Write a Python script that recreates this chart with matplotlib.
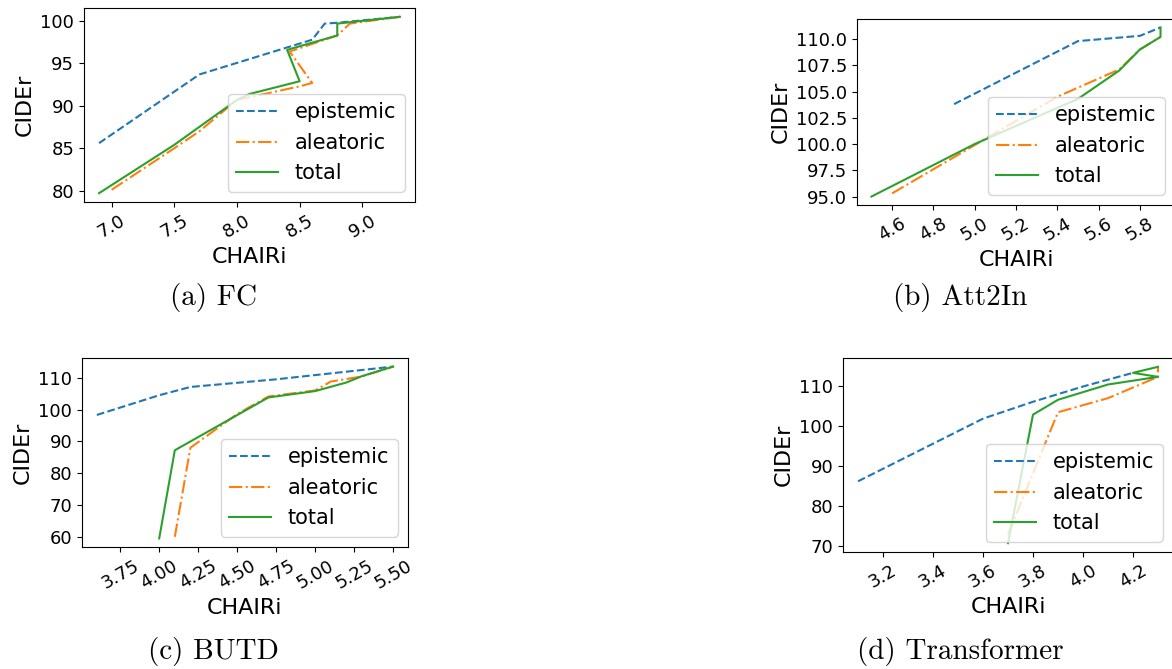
import matplotlib
matplotlib.use('Agg')
import matplotlib.pyplot as plt

# CHAIRi (x) vs CIDEr (y) for each captioning model, one curve per uncertainty type
fc_epi_x = [6.9, 7.7, 8.6, 8.7, 8.8, 9.3]
fc_epi_y = [85.6, 93.7, 97.8, 99.7, 99.8, 100.5]
fc_ale_x = [7.0, 7.5, 7.7, 8.0, 8.5, 8.6, 8.42, 8.8, 8.9, 9.3]
fc_ale_y = [80.1, 85.0, 87.0, 90.7, 92.3, 92.7, 96.4, 98.3, 99.7, 100.5]
fc_tot_x = [6.9, 7.5, 8.0, 8.1, 8.5, 8.4, 8.8, 8.8, 9.3]
fc_tot_y = [79.7, 85.4, 90.7, 91.4, 92.9, 96.6, 98.3, 99.7, 100.5]

att_epi_x = [4.9, 5.5, 5.8, 5.9]
att_epi_y = [103.8, 109.8, 110.3, 111.1]
att_ale_x = [4.6, 5.0, 5.4, 5.7, 5.8, 5.9]
att_ale_y = [95.3, 99.9, 104.5, 107.1, 109.0, 110.2]
att_tot_x = [4.5, 5.0, 5.5, 5.7, 5.8, 5.9, 5.9]
att_tot_y = [95.0, 100.0, 104.3, 107.0, 109.0, 110.2, 111.1]

butd_epi_x = [3.6, 4.0, 4.2, 4.75, 5.5]
butd_epi_y = [98.3, 104.5, 107.1, 109.5, 113.5]
butd_ale_x = [4.1, 4.2, 4.5, 4.7, 5.0, 5.1, 5.3, 5.5]
butd_ale_y = [60.0, 88.0, 98.6, 104.1, 106.0, 108.8, 110.4, 113.5]
butd_tot_x = [4.0, 4.1, 4.7, 5.0, 5.2, 5.3, 5.5]
butd_tot_y = [59.5, 87.2, 103.8, 105.8, 108.5, 110.5, 113.5]

tr_epi_x = [3.1, 3.6, 3.8, 4.0, 4.2]
tr_epi_y = [86.2, 101.8, 106.0, 109.8, 113.2]
tr_ale_x = [3.7, 3.9, 4.1, 4.3, 4.3]
tr_ale_y = [73.0, 103.4, 106.9, 112.2, 114.6]
tr_tot_x = [3.7, 3.8, 3.9, 4.1, 4.3, 4.2, 4.3]
tr_tot_y = [70.8, 102.8, 106.5, 110.3, 112.2, 113.2, 114.7]

# tick values as printed in the reference
fc_xticks = [7.0, 7.5, 8.0, 8.5, 9.0]
fc_yticks = [80, 85, 90, 95, 100]
att_xticks = [4.6, 4.8, 5.0, 5.2, 5.4, 5.6, 5.8]
att_yticks = [95.0, 97.5, 100.0, 102.5, 105.0, 107.5, 110.0]
butd_xticks = [3.75, 4.00, 4.25, 4.50, 4.75, 5.00, 5.25, 5.50]
butd_yticks = [60, 70, 80, 90, 100, 110]
tr_xticks = [3.2, 3.4, 3.6, 3.8, 4.0, 4.2]
tr_yticks = [70, 80, 90, 100, 110]

panels = [
    ('(a) FC', (fc_epi_x, fc_epi_y), (fc_ale_x, fc_ale_y), (fc_tot_x, fc_tot_y),
     fc_xticks, fc_yticks),
    ('(b) Att2In', (att_epi_x, att_epi_y), (att_ale_x, att_ale_y), (att_tot_x, att_tot_y),
     att_xticks, att_yticks),
    ('(c) BUTD', (butd_epi_x, butd_epi_y), (butd_ale_x, butd_ale_y), (butd_tot_x, butd_tot_y),
     butd_xticks, butd_yticks),
    ('(d) Transformer', (tr_epi_x, tr_epi_y), (tr_ale_x, tr_ale_y), (tr_tot_x, tr_tot_y),
     tr_xticks, tr_yticks),
]

W, H = 1172, 669
# axes boxes in pixels: left, top, right, bottom (right side of b/d runs off the page)
boxes = [(84, 8, 415, 202), (857, 19, 1175, 205), (82, 358, 408, 547), (843, 358, 1173, 552)]
caption_pos = [(213, 298), (960, 298), (213, 652), (960, 652)]

fig = plt.figure(figsize=(W / 100, H / 100), dpi=100)

for (title, epi, ale, tot, xt, yt), (l, t, r, b), (cx, cy) in zip(panels, boxes, caption_pos):
    ax = fig.add_axes([l / W, 1 - b / H, (r - l) / W, (b - t) / H])
    ax.plot(epi[0], epi[1], '--', color='C0', label='epistemic')
    ax.plot(ale[0], ale[1], '-.', color='C1', label='aleatoric')
    ax.plot(tot[0], tot[1], '-', color='C2', label='total')
    ax.set_xticks(xt)
    ax.set_yticks(yt)
    ax.set_xlabel('CHAIRi', fontsize=16)
    ax.set_ylabel('CIDEr', fontsize=16)
    ax.tick_params(labelsize=13)
    plt.setp(ax.get_xticklabels(), rotation=30)
    ax.legend(loc='lower right', fontsize=15)
    fig.text(cx / W, 1 - cy / H, title, family='cmr10', fontsize=21,
             ha='center', va='center')

fig.savefig('out.png', dpi=100)
